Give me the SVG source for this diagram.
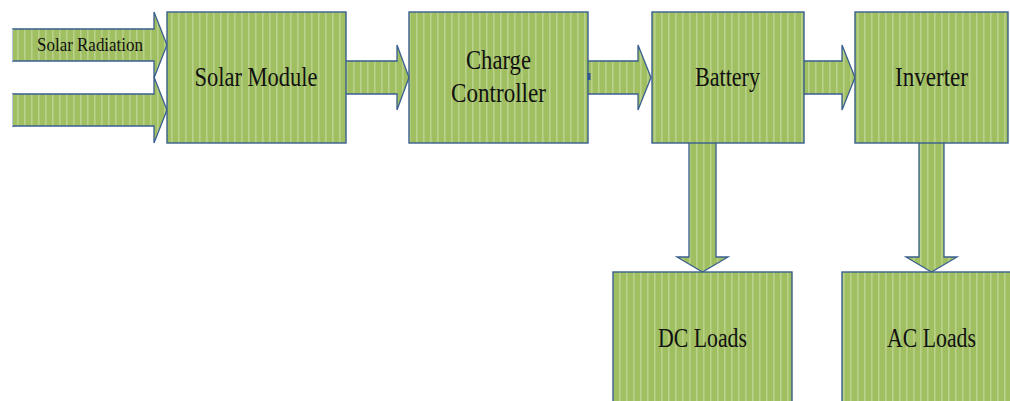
<svg xmlns="http://www.w3.org/2000/svg" width="1010" height="401" viewBox="0 0 1010 401">
  <defs>
    <!-- vertical stripe fill used by every block and arrow -->
    <pattern id="stripes" patternUnits="userSpaceOnUse" width="7" height="10">
      <rect width="7" height="10" fill="#a0bf61"/>
      <rect x="3" width="1.6" height="10" fill="#b9d18a"/>
    </pattern>
  </defs>
  <style>
    .box { fill: url(#stripes); stroke: #3a5f8f; stroke-width: 1.4; }
    .arrow { fill: url(#stripes); stroke: none; }
    .edge { fill: none; stroke: #3a5f8f; stroke-width: 1.3; stroke-linejoin: miter; }
    .lbl { font-family: "Liberation Serif", "Times New Roman", serif; fill: #111; text-anchor: middle; }
    .big { font-size: 28px; }
    .small { font-size: 18px; }
  </style>
  <rect width="1010" height="401" fill="#ffffff"/>

  <g id="connectors">
    <!-- solar radiation inputs -->
    <polygon class="arrow" points="12,29 154,29 154,12 167,45 154,78 154,61 12,61"/>
    <polyline class="edge" points="12,29 154,29 154,12 167,45 154,78 154,61 12,61"/>
    <line x1="12.5" y1="29" x2="12.5" y2="61" stroke="#b7c7dc" stroke-width="1"/>
    <polygon class="arrow" points="12,94 154,94 154,77 167,110 154,143 154,126 12,126"/>
    <polyline class="edge" points="12,94 154,94 154,77 167,110 154,143 154,126 12,126"/>
    <line x1="12.5" y1="94" x2="12.5" y2="126" stroke="#b7c7dc" stroke-width="1"/>
    <text class="lbl small" x="90" y="51" textLength="106" lengthAdjust="spacingAndGlyphs">Solar Radiation</text>

    <!-- module to controller -->
    <polygon class="arrow" points="346,61 397,61 397,45 409,77.5 397,110 397,94 346,94"/>
    <polyline class="edge" points="346,61 397,61 397,45 409,77.5 397,110 397,94 346,94"/>
    <!-- controller to battery -->
    <polygon class="arrow" points="588,61 638,61 638,45 651,77.5 638,110 638,94 588,94"/>
    <polyline class="edge" points="588,61 638,61 638,45 651,77.5 638,110 638,94 588,94"/>
    <!-- battery to inverter -->
    <polygon class="arrow" points="804,61 842,61 842,45 855,77.5 842,110 842,94 804,94"/>
    <polyline class="edge" points="804,61 842,61 842,45 855,77.5 842,110 842,94 804,94"/>
    <!-- battery to DC loads -->
    <polygon class="arrow" points="689,143 689,257 677,257 702.5,272 728,257 716,257 716,143"/>
    <polyline class="edge" points="689,143 689,257 677,257 702.5,272 728,257 716,257 716,143"/>
    <!-- inverter to AC loads -->
    <polygon class="arrow" points="919,143 919,257 906,257 931.5,272 957,257 944,257 944,143"/>
    <polyline class="edge" points="919,143 919,257 906,257 931.5,272 957,257 944,257 944,143"/>
  </g>

  <g id="solar-module">
    <rect class="box" x="167" y="12" width="179" height="131"/>
    <text class="lbl big" x="256" y="86" textLength="123" lengthAdjust="spacingAndGlyphs">Solar Module</text>
  </g>

  <g id="charge-controller">
    <rect class="box" x="409" y="12" width="179" height="131"/>
    <text class="lbl big" x="498.5" y="69" textLength="65" lengthAdjust="spacingAndGlyphs">Charge</text>
    <text class="lbl big" x="498.5" y="102" textLength="95" lengthAdjust="spacingAndGlyphs">Controller</text>
    <rect x="587.5" y="73" width="3" height="7" fill="#2f5592"/>
  </g>

  <g id="battery">
    <rect class="box" x="652" y="12" width="152" height="131"/>
    <text class="lbl big" x="727.5" y="86" textLength="65" lengthAdjust="spacingAndGlyphs">Battery</text>
  </g>

  <g id="inverter">
    <rect class="box" x="855" y="12" width="153" height="131"/>
    <text class="lbl big" x="931.5" y="86" textLength="73" lengthAdjust="spacingAndGlyphs">Inverter</text>
  </g>

  <g id="dc-loads">
    <rect class="box" x="613" y="272" width="179" height="140"/>
    <text class="lbl big" x="702.5" y="347" textLength="89" lengthAdjust="spacingAndGlyphs">DC Loads</text>
  </g>

  <g id="ac-loads">
    <rect class="box" x="842" y="272" width="180" height="140"/>
    <text class="lbl big" x="931.5" y="347" textLength="89" lengthAdjust="spacingAndGlyphs">AC Loads</text>
  </g>
</svg>
